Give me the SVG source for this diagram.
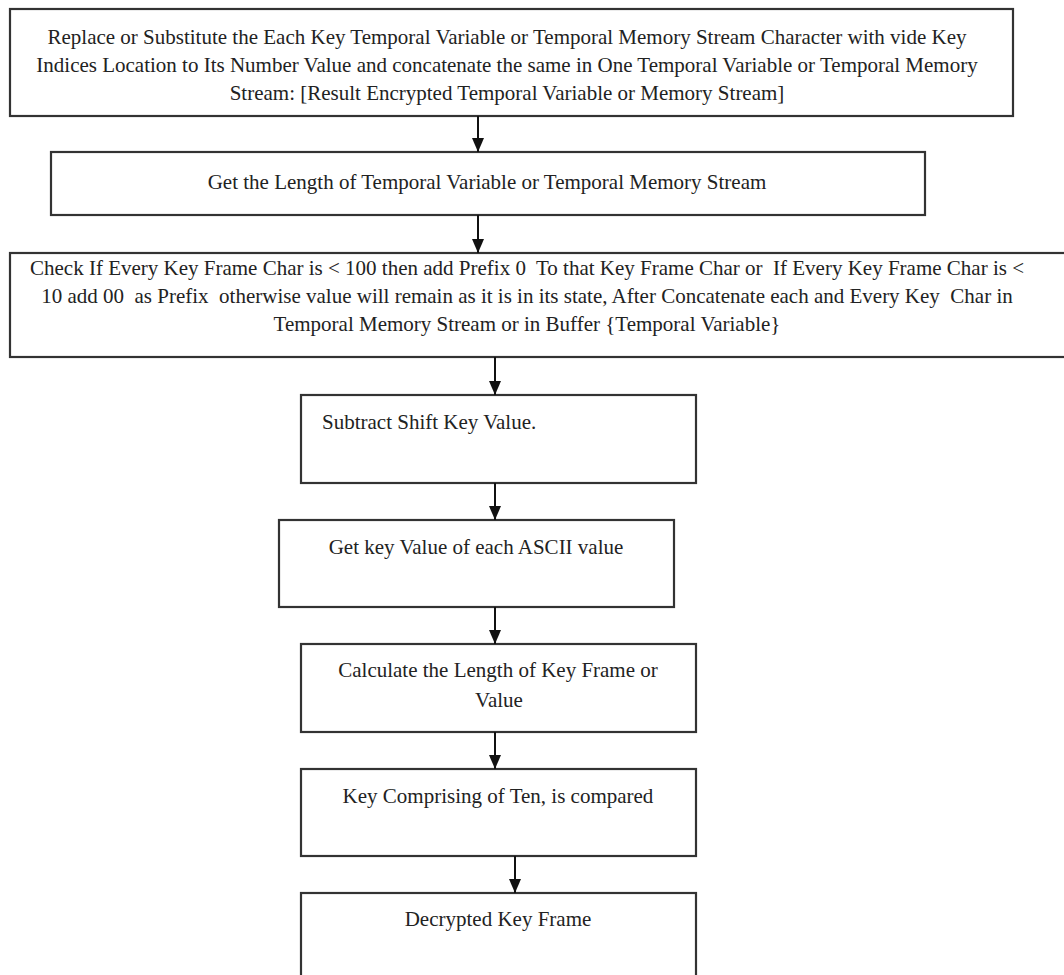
<svg xmlns="http://www.w3.org/2000/svg" width="1064" height="975" viewBox="0 0 1064 975">
<style>
.box{fill:#fff;stroke:#333;stroke-width:2.2}
.t{font-family:"Liberation Serif","Times New Roman",serif;font-size:21px;fill:#222;text-anchor:middle;white-space:pre}
.tl{font-family:"Liberation Serif","Times New Roman",serif;font-size:21px;fill:#222}
.c{stroke:#111;stroke-width:2;fill:none}
</style>
<defs>
<marker id="ah" markerUnits="userSpaceOnUse" viewBox="0 0 14 12" refX="14" refY="6" markerWidth="14" markerHeight="12" orient="auto">
<path d="M0,0 L14,6 L0,12 z" fill="#111"/>
</marker>
</defs>
<rect width="1064" height="975" fill="#fff"/>
<g id="n1">
<rect class="box" x="10" y="9" width="1003" height="107"/>
<text class="t" x="507" y="44">Replace or Substitute the Each Key Temporal Variable or Temporal Memory Stream Character with vide Key</text>
<text class="t" x="507" y="72">Indices Location to Its Number Value and concatenate the same in One Temporal Variable or Temporal Memory</text>
<text class="t" x="507" y="100">Stream: [Result Encrypted Temporal Variable or Memory Stream]</text>
</g>
<g id="n2">
<rect class="box" x="51" y="152" width="874" height="63"/>
<text class="t" x="487" y="189">Get the Length of Temporal Variable or Temporal Memory Stream</text>
</g>
<g id="n3">
<rect class="box" x="10" y="253" width="1060" height="104"/>
<text class="t" x="527" y="275" xml:space="preserve">Check If Every Key Frame Char is &lt; 100 then add Prefix 0  To that Key Frame Char or  If Every Key Frame Char is &lt;</text>
<text class="t" x="527" y="303" xml:space="preserve">10 add 00  as Prefix  otherwise value will remain as it is in its state, After Concatenate each and Every Key  Char in</text>
<text class="t" x="527" y="331">Temporal Memory Stream or in Buffer {Temporal Variable}</text>
</g>
<g id="n4">
<rect class="box" x="301" y="395" width="395" height="88"/>
<text class="tl" x="322" y="429">Subtract Shift Key Value.</text>
</g>
<g id="n5">
<rect class="box" x="279" y="520" width="395" height="87"/>
<text class="t" x="476" y="554">Get key Value of each ASCII value</text>
</g>
<g id="n6">
<rect class="box" x="301" y="644" width="395" height="88"/>
<text class="t" x="498" y="677">Calculate the Length of Key Frame or</text>
<text class="t" x="499" y="707">Value</text>
</g>
<g id="n7">
<rect class="box" x="301" y="769" width="395" height="87"/>
<text class="t" x="498" y="803">Key Comprising of Ten, is compared</text>
</g>
<g id="n8">
<rect class="box" x="301" y="893" width="395" height="100"/>
<text class="t" x="498" y="926">Decrypted Key Frame</text>
</g>
<g id="connectors">
<line class="c" x1="478" y1="116" x2="478" y2="152" marker-end="url(#ah)"/>
<line class="c" x1="478" y1="215" x2="478" y2="253" marker-end="url(#ah)"/>
<line class="c" x1="495" y1="357" x2="495" y2="395" marker-end="url(#ah)"/>
<line class="c" x1="495" y1="483" x2="495" y2="520" marker-end="url(#ah)"/>
<line class="c" x1="495" y1="607" x2="495" y2="644" marker-end="url(#ah)"/>
<line class="c" x1="495" y1="732" x2="495" y2="769" marker-end="url(#ah)"/>
<line class="c" x1="515" y1="856" x2="515" y2="893" marker-end="url(#ah)"/>
</g>
</svg>
